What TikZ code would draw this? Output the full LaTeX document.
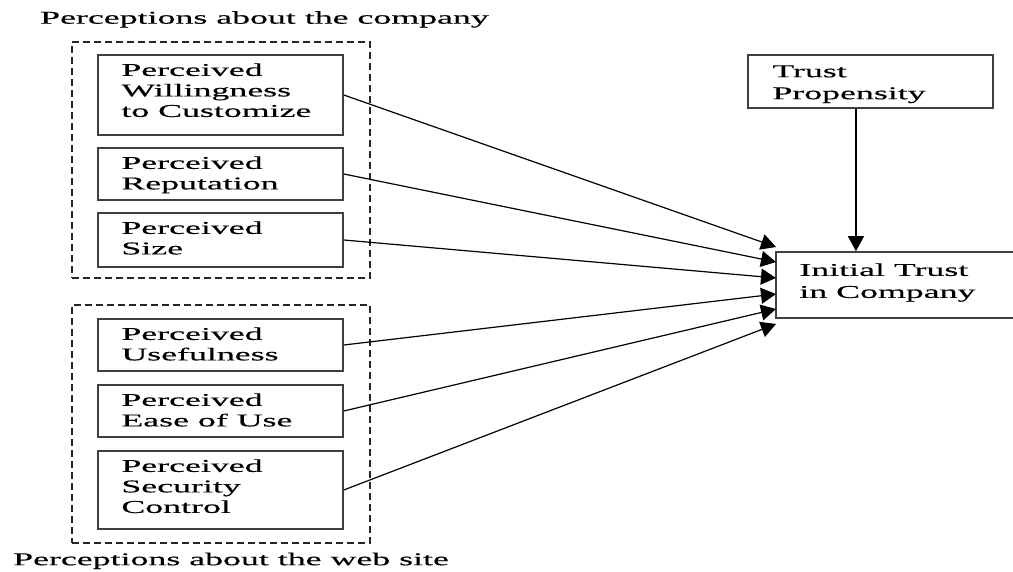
\documentclass[tikz,border=0pt]{standalone}
\usepackage{fontspec}
\newfontfamily\diagfont[FakeStretch=1.99,FakeBold=0.4]{Liberation Serif}
\usetikzlibrary{arrows.meta,calc}

\begin{document}
\begin{tikzpicture}[x=1pt,y=-1pt,
  box/.style={draw=black!75, line width=1.6pt, minimum width=245pt, inner sep=0pt},
  group/.style={draw=black!85, line width=1.8pt, dash pattern=on 7pt off 4pt, inner sep=0pt,
                minimum width=298pt},
  lbl/.style={inner sep=0pt, align=left, anchor=north west,
              font=\diagfont\fontsize{18}{20.5}\selectfont},
  heading/.style={inner sep=0pt, align=left, anchor=north west,
                  font=\diagfont\fontsize{18}{21}\selectfont},
  link/.style={line width=1.2pt, -{Triangle[length=15pt,width=16pt]}}]

\useasboundingbox (0,0) rectangle (1013,572);

% group frames
\node[group, minimum height=236pt] (company) at (221,160) {};
\node[group, minimum height=238pt] (website) at (221,424) {};

\node[heading] (company-cap) at (40,11) {Perceptions about the company};
\node[heading] (website-cap) at (13,552.5) {Perceptions about the web site};

% perception boxes
\node[box, minimum height=80pt] (pwc)  at (220.5,95)  {};
\node[box, minimum height=52pt] (rep)  at (220.5,174) {};
\node[box, minimum height=54pt] (size) at (220.5,240) {};
\node[box, minimum height=52pt] (use)  at (220.5,345) {};
\node[box, minimum height=52pt] (ease) at (220.5,411) {};
\node[box, minimum height=78pt] (sec)  at (220.5,490) {};

\node[lbl] (pwc-t)  at ([shift={(24,9)}]pwc.north west)  {Perceived\\Willingness\\to Customize};
\node[lbl] (rep-t)  at ([shift={(24,9)}]rep.north west)  {Perceived\\Reputation};
\node[lbl] (size-t) at ([shift={(24,9)}]size.north west) {Perceived\\Size};
\node[lbl] (use-t)  at ([shift={(24,9)}]use.north west)  {Perceived\\Usefulness};
\node[lbl] (ease-t) at ([shift={(24,9)}]ease.north west) {Perceived\\Ease of Use};
\node[lbl] (sec-t)  at ([shift={(24,9)}]sec.north west)  {Perceived\\Security\\Control};

% trust boxes
\node[box, minimum height=53pt] (tp) at (870.5,81.5) {};
\node[lbl, font=\diagfont\fontsize{18}{22}\selectfont] (tp-t) at ([shift={(25,11)}]tp.north west) {Trust\\Propensity};

\node[box, minimum width=254pt, minimum height=66pt] (itc) at (903,285) {};
\node[lbl, font=\diagfont\fontsize{18}{22}\selectfont] (itc-t) at ([shift={(24,12)}]itc.north west) {Initial Trust\\in Company};

% arrow ends along the left side of the outcome box
\coordinate (in1) at (776,247);
\coordinate (in2) at (776,262);
\coordinate (in3) at (776,278);
\coordinate (in4) at (776,294);
\coordinate (in5) at (776,309);
\coordinate (in6) at (776,324);

\draw[link] (pwc.east)  -- (in1);
\draw[link] (rep.east)  -- (in2);
\draw[link] (size.east) -- (in3);
\draw[link] (use.east)  -- (in4);
\draw[link] (ease.east) -- (in5);
\draw[link] (sec.east)  -- (in6);

\coordinate (tp-out) at ($(tp.south west)!0.441!(tp.south east)$);
\draw[link] (tp-out) -- (tp-out |- itc.north);
\end{tikzpicture}
\end{document}
